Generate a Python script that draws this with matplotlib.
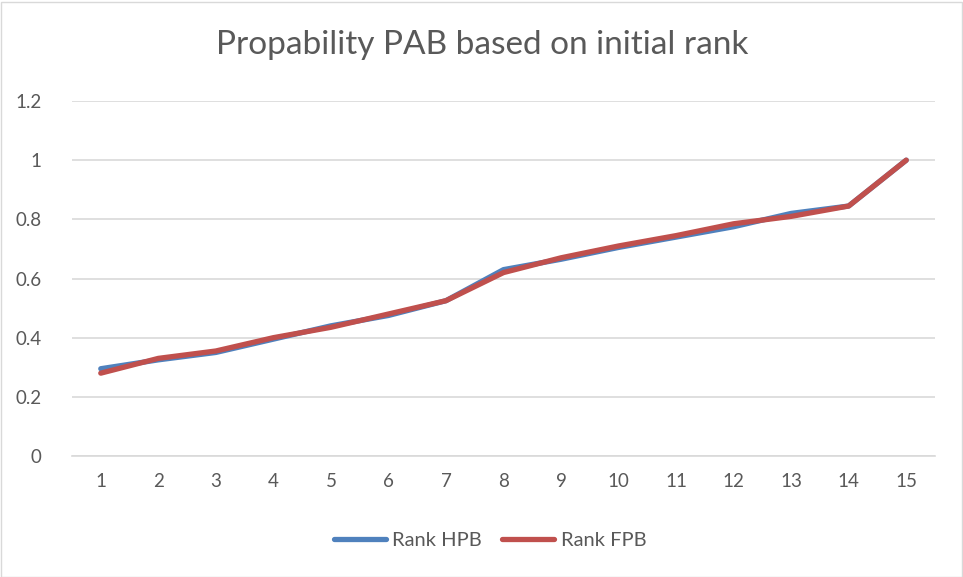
import numpy as np
import matplotlib.pyplot as plt
from matplotlib.patches import Rectangle

plt.rcParams['font.family'] = ['Lato', 'DejaVu Sans']

ranks = [str(i) for i in range(1, 16)]
hpb = [0.295, 0.325, 0.35, 0.395, 0.44, 0.475, 0.525, 0.63, 0.665, 0.705,
       0.74, 0.775, 0.82, 0.845, 1.0]
fpb = [0.28, 0.33, 0.355, 0.40, 0.435, 0.48, 0.525, 0.62, 0.67, 0.71,
       0.745, 0.785, 0.81, 0.845, 1.0]

fig = plt.figure(figsize=(9.63, 5.77), dpi=100)
ax = fig.add_axes([72 / 963, 1 - 456 / 577, 863 / 963, 355 / 577])

x = np.arange(len(ranks))
ax.plot(x, hpb, color='#4f81bd', linewidth=3.8, label='Rank HPB', solid_capstyle='round')
ax.plot(x, fpb, color='#c0504d', linewidth=3.8, label='Rank FPB', solid_capstyle='round')

ax.set_xlim(-0.5, len(ranks) - 0.5)
ax.set_ylim(0, 1.2)
ax.set_yticks([0, 0.2, 0.4, 0.6, 0.8, 1, 1.2])
ax.set_yticklabels(['0', '0.2', '0.4', '0.6', '0.8', '1', '1.2'])
ax.set_xticks(x)
ax.set_xticklabels(ranks)
ax.grid(axis='y', color='#d9d9d9', linewidth=1.2)
ax.set_axisbelow(True)
for s in ['top', 'right', 'left']:
    ax.spines[s].set_visible(False)
ax.spines['bottom'].set_color('#d9d9d9')
ax.spines['bottom'].set_linewidth(1.2)
ax.tick_params(length=0, labelsize=13.5, colors='#595959', pad=12)
ax.tick_params(axis='y', pad=22)

fig.text(482 / 963, 1 - 45 / 577, 'Propability PAB based on initial rank',
         ha='center', va='center', fontsize=24, color='#595959')

leg = fig.legend(loc='center', bbox_to_anchor=(490 / 963, 1 - 540 / 577), ncol=2,
                 frameon=False, fontsize=14.5, handlelength=2.6, columnspacing=1.0,
                 handletextpad=0.3)
for t in leg.get_texts():
    t.set_color('#595959')

fig.patches.append(Rectangle((0.5 / 963, 0.5 / 577), 961 / 963, 575 / 577,
                             transform=fig.transFigure, fill=False,
                             edgecolor='#d9d9d9', linewidth=1))

fig.savefig('out.png', dpi=100)
